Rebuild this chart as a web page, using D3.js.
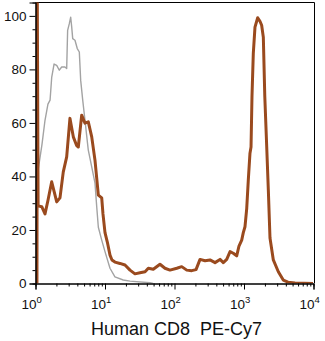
<!DOCTYPE html>
<html>
<head>
<meta charset="utf-8">
<script src="https://cdn.jsdelivr.net/npm/d3@7"></script>
<style>
  html, body { margin: 0; padding: 0; background: #fff; }
  svg { display: block; font-family: "Liberation Sans", Arial, Helvetica, sans-serif; }
</style>
</head>
<body>
<svg id="chart" width="325" height="341"></svg>
<script>
// Stained sample: fluorescence intensity and % of max
const stainedX = [1.05, 1.06, 1.09, 1.23, 1.37, 1.51, 1.71, 2.02, 2.25, 2.51, 2.81, 3.13, 3.50, 3.92, 4.13,
  4.62, 5.15, 5.75, 6.44, 7.18, 8.02, 8.97, 9.35, 10.0, 10.8, 11.8, 12.6, 13.9, 16.4, 19.4, 22.9, 27.0,
  31.9, 37.7, 42.0, 49.5, 61.8, 72.9, 86.1, 108, 127, 150, 177, 204, 233, 275, 324, 383, 452, 504, 564,
  630, 701, 785, 847, 927, 977, 1033, 1094, 1153, 1219, 1262, 1303, 1361, 1439, 1574, 1698, 1795, 1897,
  1991, 2123, 2239, 2366, 2642, 3119, 3673, 4295, 5420, 9840];
const stainedY = [0, 110, 29, 28.7, 26, 31, 38, 30.5, 32, 41.7, 47.3, 61.7, 54.8, 51.5, 51,
  62.9, 59.9, 60.4, 54.8, 46, 33, 32, 26, 19, 15.5, 10.6, 8.8, 8, 7.5, 6.9, 5, 3.6,
  4, 4.4, 5.7, 5.3, 7.2, 5.7, 5, 5.7, 6.3, 5, 4.8, 5.2, 9, 8.5, 8.8, 7.8, 9, 7.8, 9,
  11.9, 11.3, 10.3, 14, 16.2, 19, 21.2, 28, 38.6, 48.7, 51, 70, 86, 95.8, 99.3, 98, 96.5, 92,
  70, 51, 35, 17, 8.8, 4.4, 1.3, 0.5, 0.2, 0];

// Isotype / unstained control
const controlX = [1.10, 1.24, 1.37, 1.51, 1.62, 1.71, 1.85, 2.02, 2.20, 2.38, 2.65, 2.81, 2.90, 3.06,
  3.21, 3.32, 3.43, 3.70, 3.99, 4.27, 4.47, 4.78, 5.15, 5.75, 6.44, 7.18, 7.60, 8.02, 8.97, 10.0,
  11.8, 13.9, 18.3, 22.9, 44.4, 49.1];
const controlY = [43, 52, 61, 67, 68.5, 77, 82, 81.5, 79.7, 80.9, 80.9, 80.3, 94.6, 97,
  99.5, 95.8, 91.5, 90.9, 87.8, 86.5, 75.9, 68.5, 61, 49.8, 43.6, 37.5, 28.7, 21, 16.2, 11.9,
  5.7, 2.5, 1.3, 0.9, 0.3, 0];

const xMajorTicks = [1, 10, 100, 1000, 10000];
const xTickExponents = ["0", "1", "2", "3", "4"];
const yMajorTicks = [0, 20, 40, 60, 80, 100];
const yMinorTicks = [5, 10, 15, 25, 30, 35, 45, 50, 55, 65, 70, 75, 85, 90, 95];
const axisTitle = "Human CD8  PE-Cy7";

const svg = d3.select("#chart");
const plotLeft = 35.5, plotRight = 314.5, plotTop = 2.5, plotBottom = 283.5;

const x = d3.scaleLog().domain([1, 10000]).range([plotLeft, plotRight - 1]);
const y = d3.scaleLinear().domain([0, 105]).range([plotBottom, plotTop]);

const xMinorTicks = [];
for (let d = 1; d < 10000; d *= 10) for (let k = 2; k <= 9; k++) xMinorTicks.push(d * k);

svg.append("defs").append("clipPath").attr("id", "plotClip")
  .append("rect").attr("x", plotLeft).attr("y", plotTop)
  .attr("width", plotRight - plotLeft).attr("height", plotBottom - plotTop);

// frame (top and right)
svg.append("path")
  .attr("d", `M${plotLeft},${plotTop}H${plotRight}V${plotBottom}`)
  .attr("fill", "none").attr("stroke", "#000").attr("stroke-width", 1);

const line = d3.line().x(d => x(d[0])).y(d => y(d[1])).curve(d3.curveLinear);
const g = svg.append("g").attr("clip-path", "url(#plotClip)");

g.append("path")
  .datum(d3.zip(controlX, controlY))
  .attr("d", line)
  .attr("fill", "none").attr("stroke", "#a3a3a3").attr("stroke-width", 1.4)
  .attr("stroke-linejoin", "round");

g.append("path")
  .datum(d3.zip(stainedX, stainedY))
  .attr("d", line)
  .attr("fill", "none").attr("stroke", "#9a4a1e").attr("stroke-width", 3)
  .attr("stroke-linejoin", "round");

// y axis
const yAxisG = svg.append("g").attr("transform", `translate(${plotLeft},0)`);
yAxisG.call(d3.axisLeft(y).tickValues(yMinorTicks).tickSize(3).tickFormat(""));
yAxisG.append("g").call(d3.axisLeft(y).tickValues(yMajorTicks).tickSize(6).tickPadding(3));
yAxisG.selectAll("text").attr("font-size", 13.5).attr("fill", "#111").attr("font-family", null);
yAxisG.selectAll(".domain").attr("stroke", "#000");

// x axis
const xAxisG = svg.append("g").attr("transform", `translate(0,${plotBottom})`);
xAxisG.call(d3.axisBottom(x).tickValues(xMinorTicks).tickSize(3).tickFormat(""));
xAxisG.append("g").call(d3.axisBottom(x).tickValues(xMajorTicks).tickSize(6).tickFormat(""));
xAxisG.selectAll(".domain").attr("stroke", "#000");

const xLabels = svg.append("g").attr("fill", "#111").attr("font-size", 13.5);
xMajorTicks.forEach((v, i) => {
  const t = xLabels.append("text")
    .attr("x", x(v) - 14)
    .attr("y", 308.5);
  t.append("tspan").text("10");
  t.append("tspan").attr("dy", -6).attr("font-size", 9.5).text(xTickExponents[i]);
});

svg.append("text")
  .attr("x", 176.5).attr("y", 335)
  .attr("text-anchor", "middle")
  .attr("font-size", 18)
  .attr("fill", "#111")
  .style("white-space", "pre")
  .text(axisTitle);
</script>
</body>
</html>
